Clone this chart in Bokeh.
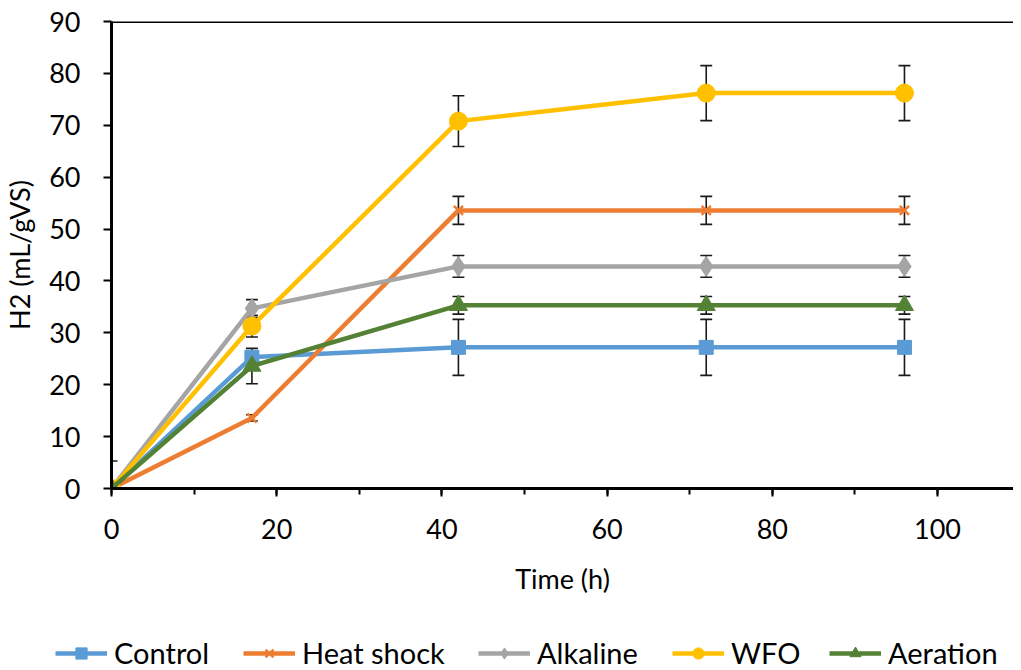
import numpy as np
from bokeh.plotting import figure
from bokeh.layouts import column, row
from bokeh.models import (Legend, LegendItem, Span, SingleIntervalTicker, ColumnDataSource)
from bokeh.embed import file_html
from bokeh.resources import INLINE

# ---------------- data ----------------
time_h = [0, 17, 42, 72, 96]
series_names = ["Control", "Heat shock", "Alkaline", "WFO", "Aeration"]
control = [0, 25.3, 27.2, 27.2, 27.2]
control_err = [5.3, 1.0, 5.4, 5.4, 5.4]
heat_shock = [0, 13.6, 53.6, 53.6, 53.6]
heat_shock_err = [0, 0.6, 2.7, 2.7, 2.7]
alkaline = [0, 34.7, 42.8, 42.8, 42.8]
alkaline_err = [0, 1.7, 2.1, 2.1, 2.1]
wfo = [0, 31.3, 70.8, 76.2, 76.2]
wfo_err = [0, 2.1, 4.9, 5.3, 5.3]
aeration = [0, 23.6, 35.3, 35.3, 35.3]
aeration_err = [0, 3.4, 1.7, 1.7, 1.7]
x_ticks = [0, 20, 40, 60, 80, 100]
y_ticks = [0, 10, 20, 30, 40, 50, 60, 70, 80, 90]

FONT = "Lato"
FS = "27px"
W = 1013

p = figure(width=W, height=606, x_range=(0, 109.2), y_range=(0, 90),
           output_backend="svg", toolbar_location=None,
           min_border_left=107, min_border_top=21, min_border_right=0,
           min_border_bottom=118)
p.outline_line_color = None
p.grid.grid_line_color = None
p.background_fill_color = "white"

# axes
p.xaxis.ticker = SingleIntervalTicker(interval=20, num_minor_ticks=2)
p.yaxis.ticker = SingleIntervalTicker(interval=10, num_minor_ticks=0)
for ax in (p.xaxis[0], p.yaxis[0]):
    ax.axis_line_width = 3
    ax.axis_line_color = "black"
    ax.major_tick_line_width = 2
    ax.major_tick_line_color = "black"
    ax.minor_tick_line_width = 2
    ax.minor_tick_line_color = "black"
    ax.major_tick_in = 0
    ax.major_tick_out = 8
    ax.minor_tick_in = 0
    ax.minor_tick_out = 6
    ax.major_label_text_font = FONT
    ax.major_label_text_font_size = FS
    ax.major_label_text_color = "black"
    ax.axis_label_text_font = FONT
    ax.axis_label_text_font_size = FS
    ax.axis_label_text_font_style = "normal"
    ax.axis_label_text_color = "black"
p.xaxis.axis_label = "Time (h)"
p.yaxis.axis_label = "H2 (mL/gVS)"
p.xaxis.major_label_standoff = 22
p.xaxis.axis_label_standoff = 20
p.yaxis.major_label_standoff = 23
p.yaxis.axis_label_standoff = 10

p.add_layout(Span(location=90, dimension="width", line_color="black", line_width=3))

colors = ["#5B9BD5", "#ED7D31", "#A5A5A5", "#FFC000", "#548235"]
values = [control, heat_shock, alkaline, wfo, aeration]
errors = [control_err, heat_shock_err, alkaline_err, wfo_err, aeration_err]
markers = ["square", "x", "diamond", "circle", "triangle"]
msizes = [14, 13, 20, 18, 18]

# error bars first
cap = 0.72
for vals, errs in zip(values, errors):
    x = np.array(time_h, dtype=float)
    v = np.array(vals)
    e = np.array(errs)
    m = e > 0
    x, v, e = x[m], v[m], e[m]
    p.segment(x, v - e, x, v + e, line_color="#1a1a1a", line_width=1.6)
    p.segment(x - cap, v + e, x + cap, v + e, line_color="#1a1a1a", line_width=1.6)
    p.segment(x - cap, v - e, x + cap, v - e, line_color="#1a1a1a", line_width=1.6)


def draw_series(fig, xs, ys, col, mk, ms):
    src = ColumnDataSource(dict(x=xs, y=ys))
    lr = fig.line("x", "y", source=src, line_color=col, line_width=4.5)
    if mk == "x":
        sr = fig.scatter("x", "y", source=src, marker=mk, size=ms, line_color=col,
                         line_width=2.5)
    else:
        sr = fig.scatter("x", "y", source=src, marker=mk, size=ms, fill_color=col,
                         line_color=col)
    return [lr, sr]


for name, vals, col, mk, ms in zip(series_names, values, colors, markers, msizes):
    draw_series(p, time_h, vals, col, mk, ms)

# ---------- legend strip below the chart ----------
# its ranges lie away from the data, so only the legend swatches show
lg = figure(width=W, height=64, output_backend="svg", toolbar_location=None,
            x_axis_type=None, y_axis_type=None,
            x_range=(-1000, -999), y_range=(-1000, -999),
            min_border=0, min_border_left=0, min_border_right=0,
            min_border_top=0, min_border_bottom=0)
lg.outline_line_color = None
lg.grid.grid_line_color = None

leg_x = [55, 243, 478, 672, 829]
for name, vals, col, mk, ms, lx in zip(series_names, values, colors, markers, msizes, leg_x):
    rs = draw_series(lg, time_h, vals, col, mk, ms)
    leg = Legend(items=[LegendItem(label=name, renderers=rs)],
                 location=(lx, 0), orientation="horizontal",
                 glyph_width=52, glyph_height=28, label_standoff=7,
                 padding=0, spacing=0, margin=0,
                 border_line_color=None, background_fill_alpha=0,
                 label_text_font=FONT, label_text_font_size="29px",
                 label_text_color="black")
    lg.add_layout(leg, "center")

layout = column(p, row(lg), spacing=0)
open("out.html", "w").write(file_html(layout, INLINE))
